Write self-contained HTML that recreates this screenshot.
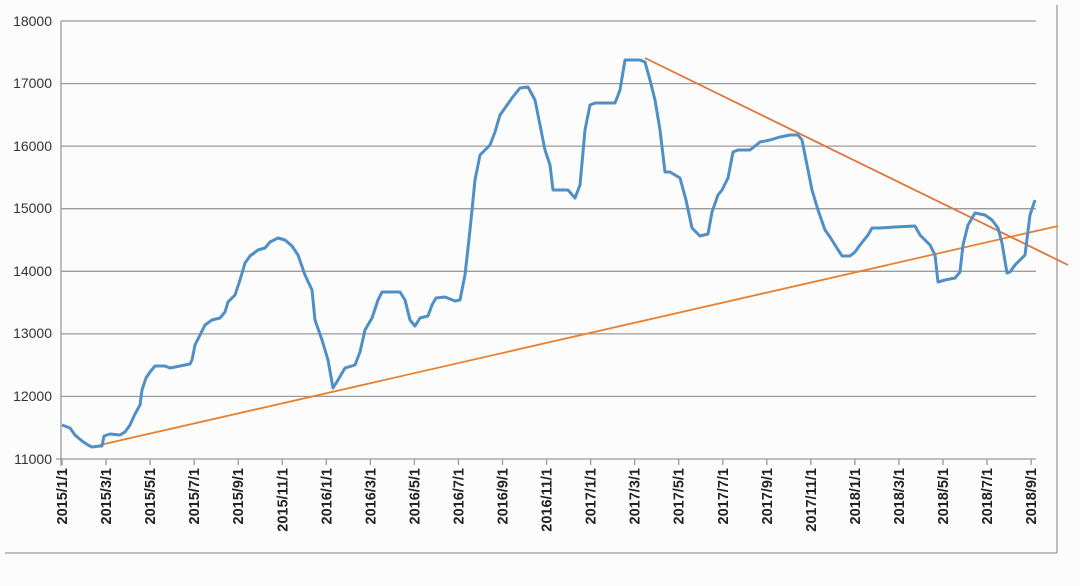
<!DOCTYPE html>
<html><head><meta charset="utf-8"><style>
body{margin:0;background:#fcfcfc;}
svg{display:block;font-family:"Liberation Sans",sans-serif;}
</style></head><body>
<svg width="1080" height="586" viewBox="0 0 1080 586">
<rect width="1080" height="586" fill="#fcfcfc"/>
<g stroke="#9a9a9a" stroke-width="1.3">
<line x1="61" y1="21" x2="1036" y2="21"/>
<line x1="61" y1="83.6" x2="1036" y2="83.6"/>
<line x1="61" y1="146.1" x2="1036" y2="146.1"/>
<line x1="61" y1="208.7" x2="1036" y2="208.7"/>
<line x1="61" y1="271.3" x2="1036" y2="271.3"/>
<line x1="61" y1="333.9" x2="1036" y2="333.9"/>
<line x1="61" y1="396.4" x2="1036" y2="396.4"/>
<line x1="56" y1="459" x2="1036" y2="459"/>
<line x1="61" y1="21" x2="61" y2="466"/>
<line x1="5" y1="553" x2="1057" y2="553"/>
<line x1="1057" y1="5" x2="1057" y2="553"/>
</g>
<g font-size="14" fill="#333" text-anchor="end">
<text x="52" y="26">18000</text><text x="52" y="88">17000</text><text x="52" y="151">16000</text>
<text x="52" y="213">15000</text><text x="52" y="276">14000</text><text x="52" y="338">13000</text>
<text x="52" y="401">12000</text><text x="52" y="464">11000</text>
</g>
<g font-size="14.5" fill="#222" font-weight="bold" text-anchor="end" id="xl"></g>
<polyline fill="none" stroke="#e8802e" stroke-width="1.8" points="100,445 1058,226"/>
<polyline fill="none" stroke="#e0743a" stroke-width="1.8" points="645,58 1068,265"/>
<polyline fill="none" stroke="#4f8fc6" stroke-width="3" stroke-linejoin="round" points="62,425 70,428 75,435 82,441 88,445 92,447 100,446 102,446 104,436 110,434 120,435 125,432 130,425 135,414 140,405 142,390 146,378 150,372 155,366 165,366 170,368 180,366 190,364 192,360 195,345 200,335 205,325 212,320 220,318 225,312 228,302 235,295 240,280 245,263 250,256 258,250 265,248 270,242 278,238 285,240 292,246 298,255 305,275 312,290 315,320 322,340 328,360 333,388 338,380 345,368 355,365 360,352 365,330 372,318 378,300 382,292 390,292 400,292 405,300 410,320 415,326 420,318 428,316 432,305 436,298 445,297 455,301 460,300 465,275 470,230 475,180 480,155 490,145 495,132 500,115 505,108 512,98 520,88 528,87 535,100 540,125 545,150 550,165 553,190 560,190 568,190 575,198 580,185 585,130 590,105 595,103 605,103 615,103 620,90 625,60 630,60 640,60 645,62 650,80 655,100 660,130 665,172 670,172 680,178 686,200 692,228 700,236 708,234 712,212 718,195 722,190 728,178 733,152 738,150 750,150 760,142 770,140 780,137 790,135 798,135 802,140 806,160 812,190 818,210 825,230 830,237 835,245 842,256 850,256 855,252 860,245 868,235 872,228 880,228 895,227 915,226 920,235 925,240 930,245 935,255 938,282 945,280 955,278 960,272 963,245 968,225 975,213 985,215 992,220 998,228 1002,243 1007,273 1010,272 1015,265 1022,258 1025,255 1030,215 1035,200"/>
</svg>
<script>
var labs=["2015/1/1","2015/3/1","2015/5/1","2015/7/1","2015/9/1","2015/11/1","2016/1/1","2016/3/1","2016/5/1","2016/7/1","2016/9/1","2016/11/1","2017/1/1","2017/3/1","2017/5/1","2017/7/1","2017/9/1","2017/11/1","2018/1/1","2018/3/1","2018/5/1","2018/7/1","2018/9/1"];
var g=document.getElementById('xl'),ns="http://www.w3.org/2000/svg",svg=g.ownerSVGElement;
labs.forEach(function(t,i){var x=62+i*44.05;
var l=document.createElementNS(ns,'line');l.setAttribute('x1',x);l.setAttribute('x2',x);l.setAttribute('y1',459);l.setAttribute('y2',465);l.setAttribute('stroke','#9a9a9a');l.setAttribute('stroke-width','1.3');svg.insertBefore(l,g);
var e=document.createElementNS(ns,'text');e.setAttribute('transform','translate('+(x+5)+',468) rotate(-90)');e.textContent=t;g.appendChild(e);});
</script>
</body></html>
